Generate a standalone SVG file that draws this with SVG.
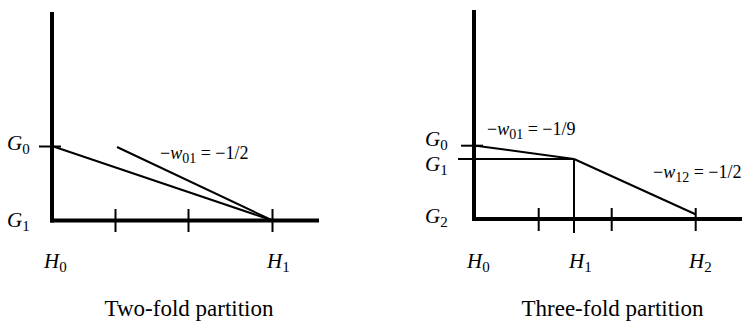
<svg xmlns="http://www.w3.org/2000/svg" width="746" height="323" viewBox="0 0 746 323">
<style>
.axis{stroke:#000;stroke-width:4;fill:none;stroke-linecap:butt}
.thin{stroke:#000;stroke-width:2;fill:none}
text{font-family:"Liberation Serif","Times New Roman",serif;fill:#000}
.lab{font-size:21px}
.it{font-style:italic}
.sub{font-size:15px}
.eq{font-size:18px}
.eqs{font-size:14px}
.cap{font-size:23px}
</style>
<rect width="746" height="323" fill="#fff"/>
<g id="left-panel">
  <line class="axis" x1="52" y1="12" x2="52" y2="222.5"/>
  <line class="axis" x1="50" y1="220.5" x2="319" y2="220.5"/>
  <line class="thin" x1="115.5" y1="209" x2="115.5" y2="232"/>
  <line class="thin" x1="188.5" y1="209" x2="188.5" y2="232"/>
  <line class="thin" x1="272.5" y1="209" x2="272.5" y2="232"/>
  <line class="thin" x1="39" y1="146.5" x2="61" y2="146.5"/>
  <line class="thin" x1="52" y1="146" x2="272.5" y2="220.5"/>
  <line class="thin" x1="117" y1="147" x2="272.5" y2="220.5"/>
  <text class="lab" x="7" y="150"><tspan class="it">G</tspan><tspan class="sub" dy="4">0</tspan></text>
  <text class="lab" x="7" y="227"><tspan class="it">G</tspan><tspan class="sub" dy="4">1</tspan></text>
  <text class="lab" x="44" y="268"><tspan class="it">H</tspan><tspan class="sub" dy="4">0</tspan></text>
  <text class="lab" x="267" y="268"><tspan class="it">H</tspan><tspan class="sub" dy="4">1</tspan></text>
  <text class="eq" x="160" y="159">−<tspan class="it">w</tspan><tspan class="eqs" dy="4">01</tspan><tspan dy="-4"> = −1/2</tspan></text>
  <text class="cap" x="189" y="316" text-anchor="middle">Two-fold partition</text>
</g>
<g id="right-panel">
  <line class="axis" x1="474" y1="10" x2="474" y2="221"/>
  <line class="axis" x1="472" y1="219" x2="742" y2="219"/>
  <line class="thin" x1="538.7" y1="208" x2="538.7" y2="231"/>
  <line class="thin" x1="611.7" y1="208" x2="611.7" y2="231"/>
  <line class="thin" x1="695.7" y1="208" x2="695.7" y2="231"/>
  <line class="thin" x1="574" y1="159" x2="574" y2="233"/>
  <line class="thin" x1="461" y1="145.7" x2="483" y2="145.7"/>
  <line class="thin" x1="458" y1="159" x2="574" y2="159"/>
  <line class="thin" x1="474" y1="145.5" x2="574" y2="159"/>
  <line class="thin" x1="574" y1="159" x2="696" y2="214.5"/>
  <text class="lab" x="425" y="146"><tspan class="it">G</tspan><tspan class="sub" dy="4">0</tspan></text>
  <text class="lab" x="425" y="171"><tspan class="it">G</tspan><tspan class="sub" dy="4">1</tspan></text>
  <text class="lab" x="425" y="223"><tspan class="it">G</tspan><tspan class="sub" dy="4">2</tspan></text>
  <text class="lab" x="467" y="268"><tspan class="it">H</tspan><tspan class="sub" dy="4">0</tspan></text>
  <text class="lab" x="569" y="268"><tspan class="it">H</tspan><tspan class="sub" dy="4">1</tspan></text>
  <text class="lab" x="689" y="268"><tspan class="it">H</tspan><tspan class="sub" dy="4">2</tspan></text>
  <text class="eq" x="487" y="135">−<tspan class="it">w</tspan><tspan class="eqs" dy="4">01</tspan><tspan dy="-4"> = −1/9</tspan></text>
  <text class="eq" x="653" y="178">−<tspan class="it">w</tspan><tspan class="eqs" dy="4">12</tspan><tspan dy="-4"> = −1/2</tspan></text>
  <text class="cap" x="612.5" y="316" text-anchor="middle">Three-fold partition</text>
</g>
</svg>
